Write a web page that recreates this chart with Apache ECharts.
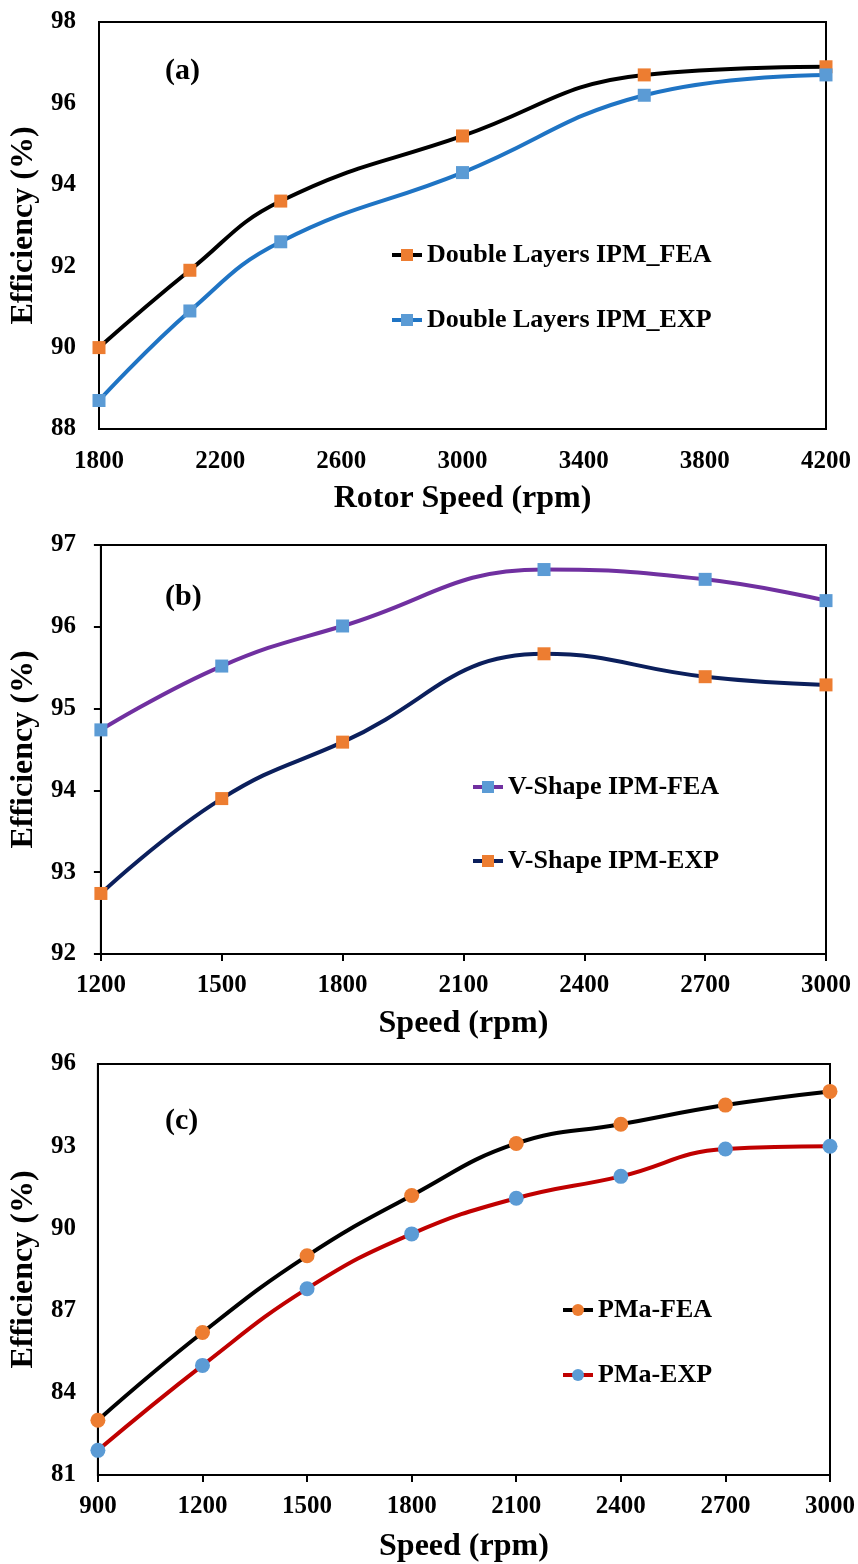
<!DOCTYPE html>
<html>
<head>
<meta charset="utf-8">
<script src="https://cdn.jsdelivr.net/npm/echarts@6/dist/echarts.min.js"></script>
<style>
  html, body { margin: 0; padding: 0; background: #fff; }
  #chart { width: 858px; height: 1564px; }
</style>
</head>
<body>
<div id="chart"></div>
<script>
// (a) double layers IPM
const speedA = [1800, 2100, 2400, 3000, 3600, 4200];
const feaA = [90.0, 91.9, 93.6, 95.2, 96.7, 96.9];
const expA = [88.7, 90.9, 92.6, 94.3, 96.2, 96.7];
// (b) V-shape IPM
const speedB = [1200, 1500, 1800, 2300, 2700, 3000];
const feaB = [94.74, 95.52, 96.01, 96.7, 96.58, 96.32];
const expB = [92.74, 93.9, 94.59, 95.67, 95.39, 95.29];
// (c) PMa
const speedC = [900, 1200, 1500, 1800, 2100, 2400, 2700, 3000];
const feaC = [83.0, 86.2, 89.0, 91.2, 93.1, 93.8, 94.5, 95.0];
const expC = [81.9, 85.0, 87.8, 89.8, 91.1, 91.9, 92.9, 93.0];

const namesA = ['Double Layers IPM_FEA', 'Double Layers IPM_EXP'];
const namesB = ['V-Shape IPM-FEA', 'V-Shape IPM-EXP'];
const namesC = ['PMa-FEA', 'PMa-EXP'];
const panelTags = ['(a)', '(b)', '(c)'];
const xTitles = ['Rotor Speed (rpm)', 'Speed (rpm)', 'Speed (rpm)'];
const yTitle = 'Efficiency (%)';

const FONT = '"Liberation Serif", "Times New Roman", serif';
const txt = (size) => ({ color: '#000', fontFamily: FONT, fontWeight: 'bold', fontSize: size });

function pairs(xs, ys) {
  return xs.map((x, i) => [x, ys[i]]);
}

function xAxis(idx, min, max, interval, name, gap, ticks, margin, fmt) {
  return {
    type: 'value', gridIndex: idx, min: min, max: max, interval: interval,
    name: name, nameLocation: 'middle', nameGap: gap, nameTextStyle: txt(32),
    axisLine: { lineStyle: { color: '#000', width: 2 } },
    axisTick: { show: ticks, inside: false, length: 7, lineStyle: { color: '#000', width: 2 } },
    splitLine: { show: false },
    axisLabel: Object.assign(txt(25), { margin: margin, formatter: fmt || (v => String(v)) })
  };
}

function yAxis(idx, min, max, interval, ticks, margin) {
  return {
    type: 'value', gridIndex: idx, min: min, max: max, interval: interval,
    name: yTitle, nameLocation: 'middle', nameGap: 52, nameTextStyle: txt(32),
    axisLine: { show: true, lineStyle: { color: '#000', width: 2 } },
    axisTick: { show: ticks, inside: false, length: 7, lineStyle: { color: '#000', width: 2 } },
    splitLine: { show: false },
    axisLabel: Object.assign(txt(25), { margin: margin, formatter: v => String(v) })
  };
}

function line(name, idx, data, lineColor, markColor, symbol, size) {
  return {
    name: name, type: 'line', xAxisIndex: idx, yAxisIndex: idx,
    data: data, smooth: 0.45, symbol: symbol, symbolSize: size,
    lineStyle: { color: lineColor, width: 4 },
    itemStyle: { color: markColor },
    clip: false
  };
}

function legend(names, left, top, gap) {
  return {
    data: names, orient: 'vertical', left: left, top: top, itemGap: gap,
    itemWidth: 30, itemHeight: 15, padding: 0,
    lineStyle: { width: 4 },
    textStyle: Object.assign(txt(26), { lineHeight: 26 })
  };
}

const ORANGE = '#ED7D31', LBLUE = '#5B9BD5';

const chart = echarts.init(document.getElementById('chart'));
chart.setOption({
  backgroundColor: '#fff',
  animation: false,
  grid: [
    { left: 99, top: 22, width: 727, height: 407, show: true, borderColor: '#000', borderWidth: 2 },
    { left: 98, top: 545, width: 728, height: 409, show: true, borderColor: '#000', borderWidth: 2 },
    { left: 96, top: 1064, width: 734, height: 412, show: true, borderColor: '#000', borderWidth: 2 }
  ],
  xAxis: [
    xAxis(0, 1800, 4200, 200, xTitles[0], 54, false, 20, v => ((v - 1800) % 400 === 0 ? String(v) : '')),
    xAxis(1, 1200, 3000, 300, xTitles[1], 54, true, 19),
    xAxis(2, 900, 3000, 300, xTitles[2], 56, true, 19)
  ],
  yAxis: [
    yAxis(0, 88, 98, 2, false, 23),
    yAxis(1, 92, 97, 1, true, 25),
    yAxis(2, 81, 96, 3, false, 22)
  ],
  legend: [
    legend(namesA, 390, 242, 39),
    legend(namesB, 471, 774, 48),
    legend(namesC, 561, 1297, 39)
  ],
  graphic: [
    { type: 'text', left: 165, top: 56, style: { text: panelTags[0], fill: '#000', font: 'bold 30px ' + FONT } },
    { type: 'text', left: 165, top: 582, style: { text: panelTags[1], fill: '#000', font: 'bold 30px ' + FONT } },
    { type: 'text', left: 165, top: 1106, style: { text: panelTags[2], fill: '#000', font: 'bold 30px ' + FONT } }
  ],
  series: [
    line(namesA[0], 0, pairs(speedA, feaA), '#000', ORANGE, 'rect', 13),
    line(namesA[1], 0, pairs(speedA, expA), '#1f74c4', LBLUE, 'rect', 13),
    line(namesB[0], 1, pairs(speedB, feaB), '#7030A0', LBLUE, 'rect', 13),
    line(namesB[1], 1, pairs(speedB, expB), '#0b1f5c', ORANGE, 'rect', 13),
    line(namesC[0], 2, pairs(speedC, feaC), '#000', ORANGE, 'circle', 15),
    line(namesC[1], 2, pairs(speedC, expC), '#C00000', LBLUE, 'circle', 15)
  ]
});
</script>
</body>
</html>
